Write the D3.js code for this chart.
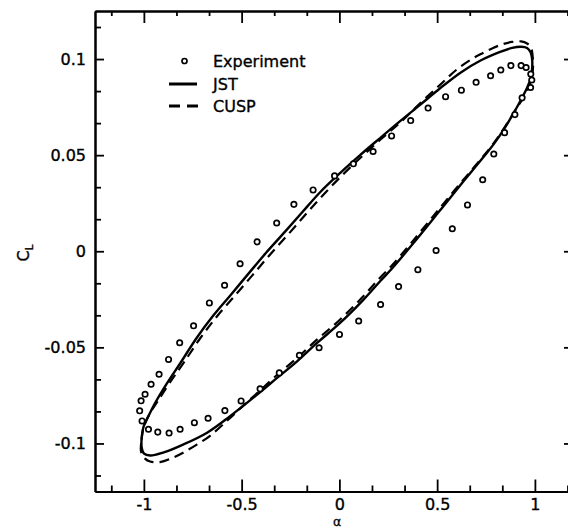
<!DOCTYPE html>
<html>
<head>
<meta charset="utf-8">
<script src="https://cdn.jsdelivr.net/npm/d3@7"></script>
<style>
    html, body { margin: 0; padding: 0; background: #fff; overflow: hidden; }
    svg { display: block; }
    .axis text { font-family: "DejaVu Sans", sans-serif; font-size: 16px; fill: #000; stroke: #000; stroke-width: 0.35px; }
    .axis path, .axis line { stroke: #000; }
</style>
</head>
<body>
<div id="chart"></div>
<script>
// defining data (alpha, CL)
const experiment = [
    [-1.0215, -0.0830], [-1.0143, -0.0778], [-0.9939, -0.0744], [-0.9632, -0.0692],
    [-0.9223, -0.0640], [-0.8737, -0.0563], [-0.8169, -0.0476], [-0.7458, -0.0388],
    [-0.6650, -0.0269], [-0.5872, -0.0177], [-0.5079, -0.0065], [-0.4210, 0.0049],
    [-0.3207, 0.0147], [-0.2327, 0.0244], [-0.1345, 0.0319], [-0.0246, 0.0392],
    [0.0716, 0.0455], [0.1724, 0.0519], [0.2670, 0.0600], [0.3647, 0.0680],
    [0.4537, 0.0745], [0.5432, 0.0804], [0.6240, 0.0838], [0.6992, 0.0879],
    [0.7734, 0.0913], [0.8256, 0.0943], [0.8772, 0.0966], [0.9294, 0.0966],
    [0.9550, 0.0956], [0.9790, 0.0922], [0.9841, 0.0891], [0.9780, 0.0852],
    [0.9345, 0.0798], [0.8977, 0.0711], [0.8450, 0.0617], [0.7898, 0.0506],
    [0.7330, 0.0372], [0.6552, 0.0241], [0.5775, 0.0117], [0.4946, 0.0004],
    [0.4015, -0.0096], [0.3028, -0.0184], [0.2107, -0.0277], [0.0987, -0.0363],
    [0.0005, -0.0433], [-0.1038, -0.0502], [-0.2046, -0.0541], [-0.3074, -0.0633],
    [-0.4056, -0.0716], [-0.5028, -0.0779], [-0.5857, -0.0829], [-0.6716, -0.0869],
    [-0.7417, -0.0892], [-0.8148, -0.0926], [-0.8711, -0.0946], [-0.9289, -0.0941],
    [-0.9765, -0.0926], [-1.0092, -0.0883]
];

const jst = [
    [-1.0118, -0.1017], [-1.0102, -0.0960], [-1.0015, -0.0913], [-0.9770, -0.0858],
    [-0.9427, -0.0790], [-0.8829, -0.0689], [-0.8148, -0.0584], [-0.7294, -0.0450],
    [-0.6460, -0.0336], [-0.5591, -0.0231], [-0.4670, -0.0119], [-0.3749, -0.0008],
    [-0.2777, 0.0102], [-0.1857, 0.0208], [-0.0987, 0.0307], [0.0036, 0.0407],
    [0.1059, 0.0500], [0.2082, 0.0589], [0.3105, 0.0677], [0.4128, 0.0762],
    [0.5151, 0.0848], [0.6174, 0.0928], [0.7197, 0.0991], [0.8220, 0.1037],
    [0.8834, 0.1058], [0.9294, 0.1064], [0.9601, 0.1058], [0.9780, 0.1035],
    [0.9857, 0.1001], [0.9857, 0.0949], [0.9780, 0.0897], [0.9601, 0.0851],
    [0.9074, 0.0748], [0.8476, 0.0645], [0.7913, 0.0560], [0.7350, 0.0488],
    [0.6379, 0.0368], [0.5151, 0.0213], [0.3770, 0.0040], [0.2747, -0.0083],
    [0.2082, -0.0156], [0.1212, -0.0254], [0.0036, -0.0373], [-0.1141, -0.0477],
    [-0.2164, -0.0573], [-0.3187, -0.0659], [-0.4159, -0.0742], [-0.5591, -0.0858],
    [-0.6767, -0.0944], [-0.7995, -0.1006], [-0.9018, -0.1048], [-0.9683, -0.1063],
    [-0.9990, -0.1053]
];

const cusp = [
    [-1.0143, -0.1043], [-1.0118, -0.0980], [-1.0015, -0.0918], [-0.9734, -0.0851],
    [-0.9299, -0.0781], [-0.8685, -0.0685], [-0.7969, -0.0581], [-0.7100, -0.0450],
    [-0.6256, -0.0338], [-0.5386, -0.0236], [-0.4465, -0.0127], [-0.3519, -0.0014],
    [-0.2573, 0.0093], [-0.1652, 0.0200], [-0.0783, 0.0298], [0.0189, 0.0400],
    [0.1161, 0.0494], [0.2133, 0.0584], [0.3156, 0.0674], [0.4128, 0.0770],
    [0.5151, 0.0866], [0.6020, 0.0947], [0.6839, 0.1004], [0.7350, 0.1032],
    [0.7862, 0.1058], [0.8373, 0.1078], [0.8834, 0.1089], [0.9294, 0.1092],
    [0.9601, 0.1081], [0.9806, 0.1058], [0.9882, 0.1017], [0.9908, 0.0965],
    [0.9857, 0.0913], [0.9703, 0.0861], [0.9448, 0.0804], [0.9013, 0.0737],
    [0.8476, 0.0648], [0.7913, 0.0565], [0.7350, 0.0493], [0.6353, 0.0373],
    [0.5100, 0.0220], [0.3719, 0.0049], [0.2696, -0.0073], [0.2031, -0.0143],
    [0.1161, -0.0241], [-0.0015, -0.0360], [-0.1192, -0.0464], [-0.2215, -0.0560],
    [-0.3238, -0.0648], [-0.4159, -0.0734], [-0.4875, -0.0799], [-0.5693, -0.0877],
    [-0.6614, -0.0960], [-0.7294, -0.1006], [-0.7995, -0.1048], [-0.8558, -0.1076],
    [-0.9171, -0.1097], [-0.9683, -0.1094], [-0.9939, -0.1079]
];

// tick values
const xMajor = [-1, -0.5, 0, 0.5, 1];
const xMinor = [-7, -5, -4, -2, -1, 1, 2, 4, 5, 7].map(k => k / 6);
const yMajor = [-0.1, -0.05, 0, 0.05, 0.1];
const yMinor = [-7, -5, -4, -2, -1, 1, 2, 4, 5, 7].map(k => k * 0.05 / 3);

// legend entries
const legendItems = ['Experiment', 'JST', 'CUSP'];

// layout
const width = 568;
const height = 529;
const plotBox = {l: 95, r: 574, t: 11, b: 491.5};

const svg = d3.select('#chart')
    .append('svg')
    .attr('width', width)
    .attr('height', height);

// scales
const scaleX = d3.scaleLinear()
    .domain([-1.25, 1.2])
    .range([plotBox.l, plotBox.r]);
const scaleY = d3.scaleLinear()
    .domain([-0.125, 0.125])
    .range([plotBox.b, plotBox.t]);

const fmt = d => String(d);

// axes: major + minor, ticks pointing inward
function drawAxis(axisFn, scale, transform, values, size, padding, cls) {
    const axis = axisFn(scale)
        .tickValues(values)
        .tickSizeInner(-size)
        .tickSizeOuter(0)
        .tickPadding(padding || 0)
        .tickFormat(padding ? fmt : '');
    const g = svg.append('g')
        .attr('class', 'axis ' + cls)
        .attr('transform', transform)
        .call(axis);
    g.attr('font-family', null).attr('font-size', null);
    g.select('.domain').attr('stroke-width', 2);
    g.selectAll('.tick line').attr('stroke-width', 1.8);
    return g;
}

drawAxis(d3.axisBottom, scaleX, `translate(0,${plotBox.b})`, xMinor, 6, 0, 'x-minor');
drawAxis(d3.axisBottom, scaleX, `translate(0,${plotBox.b})`, xMajor, 12, 7.5, 'x-major');
drawAxis(d3.axisTop, scaleX, `translate(0,${plotBox.t})`, xMinor, 5, 0, 'x-top-minor');
drawAxis(d3.axisTop, scaleX, `translate(0,${plotBox.t})`, xMajor, 12, 0, 'x-top-major');
drawAxis(d3.axisLeft, scaleY, `translate(${plotBox.l},0)`, yMinor, 6, 0, 'y-minor');
drawAxis(d3.axisLeft, scaleY, `translate(${plotBox.l},0)`, yMajor, 9, 9, 'y-major');
drawAxis(d3.axisRight, scaleY, `translate(${plotBox.r},0)`, yMinor, 6, 0, 'y-right-minor');
drawAxis(d3.axisRight, scaleY, `translate(${plotBox.r},0)`, yMajor, 10, 0, 'y-right-major');

// line generator for the closed hysteresis loops
const loop = d3.line()
    .x(d => scaleX(d[0]))
    .y(d => scaleY(d[1]))
    .curve(d3.curveCatmullRomClosed.alpha(0.5));

svg.append('path')
    .datum(cusp)
    .attr('d', loop)
    .attr('fill', 'none')
    .attr('stroke', '#000')
    .attr('stroke-width', 2.2)
    .attr('stroke-dasharray', '10,6');

svg.append('path')
    .datum(jst)
    .attr('d', loop)
    .attr('fill', 'none')
    .attr('stroke', '#000')
    .attr('stroke-width', 2.4);

// experiment circles
svg.append('g')
    .selectAll('circle')
    .data(experiment)
    .join('circle')
    .attr('cx', d => scaleX(d[0]))
    .attr('cy', d => scaleY(d[1]))
    .attr('r', 2.7)
    .attr('fill', '#fff')
    .attr('stroke', '#000')
    .attr('stroke-width', 1.7);

// legend
const legend = svg.append('g').attr('class', 'axis legend');
const rowY = [61, 84, 106];
legend.append('circle')
    .attr('cx', 184.5).attr('cy', rowY[0]).attr('r', 2.5)
    .attr('fill', '#fff').attr('stroke', '#000').attr('stroke-width', 1.7);
legend.append('line')
    .attr('x1', 169).attr('x2', 197).attr('y1', rowY[1]).attr('y2', rowY[1])
    .attr('stroke-width', 3);
legend.append('line')
    .attr('x1', 169).attr('x2', 198).attr('y1', rowY[2]).attr('y2', rowY[2])
    .attr('stroke-width', 3).attr('stroke-dasharray', '11,7');
legend.selectAll('text')
    .data(legendItems)
    .join('text')
    .attr('x', 213)
    .attr('y', (d, i) => rowY[i] + 5.5)
    .text(d => d);

// axis titles
svg.append('text')
    .attr('x', 337)
    .attr('y', 526.2)
    .attr('text-anchor', 'middle')
    .style('font-family', '"DejaVu Sans", sans-serif')
    .style('font-size', '12.5px')
    .style('stroke', '#000').style('stroke-width', '0.3px')
    .text('α');

const yTitle = svg.append('text')
    .attr('transform', 'translate(29,253) rotate(-90)')
    .attr('text-anchor', 'middle')
    .style('font-family', '"DejaVu Sans", sans-serif')
    .style('font-size', '16px')
    .style('stroke', '#000').style('stroke-width', '0.35px');
yTitle.append('tspan').text('C');
yTitle.append('tspan').attr('dy', 4).style('font-size', '10px').text('L');
</script>
</body>
</html>
